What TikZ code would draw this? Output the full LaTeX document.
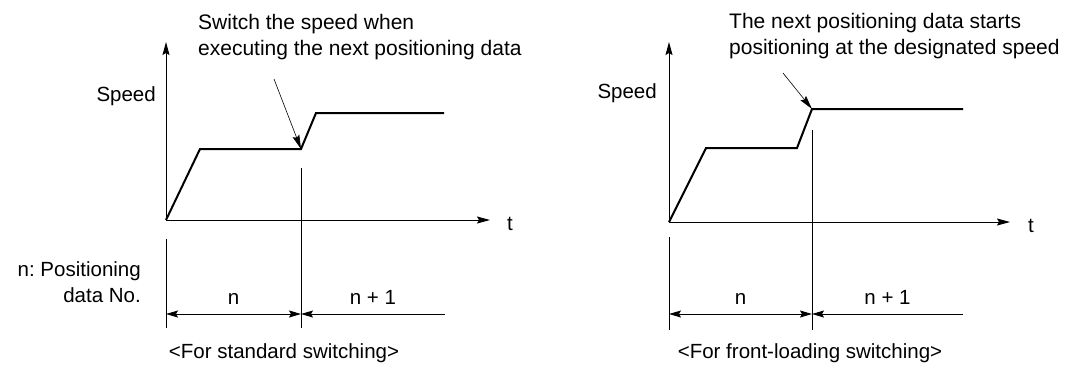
\documentclass[tikz,border=0pt]{standalone}
\usepackage{fontspec}
\setmainfont{Liberation Sans}
\usetikzlibrary{arrows.meta, calc}
\frenchspacing

\begin{document}
\begin{tikzpicture}[x=1pt, y=-1pt,
    txt/.style={inner sep=0pt, font=\fontsize{20.5}{26}\selectfont},
    note/.style={inner sep=0pt, align=left, font=\fontsize{21}{26}\selectfont},
    taxis/.style={line width=1pt, -{Stealth[length=13pt, width=7pt, inset=2pt]}},
    profile/.style={line width=2pt},
    guide/.style={line width=1pt},
    dimboth/.style={line width=1pt, {Stealth[length=12pt, width=7pt, inset=2pt]}-{Stealth[length=12pt, width=7pt, inset=2pt]}},
    dimleft/.style={line width=1pt, {Stealth[length=12pt, width=7pt, inset=2pt]}-},
    callout/.style={line width=0.6pt, -{Stealth[length=14pt, width=7pt, inset=2pt]}}]
    \useasboundingbox (0,0) rectangle (1066,365);

    % standard switching
    \coordinate (s0) at (166,220);
    \coordinate (sy) at (166,42);
    \coordinate (sx) at (490,220);
    \coordinate (sa) at (200,149);
    \coordinate (sb) at (301,149);
    \coordinate (sc) at (316,113);
    \coordinate (sd) at (444,113);
    \coordinate (swtop) at (301,168);
    \coordinate (swbot) at (301,328);
    \coordinate (sltop) at (166,239);
    \coordinate (slbot) at (166,328);
    \coordinate (sdl) at (166,314);
    \coordinate (sdm) at (301,314);
    \coordinate (sdr) at (445,314);
    \coordinate (stail) at (274,79);

    \draw[taxis] (s0) -- (sy);
    \draw[taxis] (s0) -- (sx);
    \draw[profile] (s0) -- (sa) -- (sb) -- (sc) -- (sd);
    \draw[guide] (swtop) -- (swbot);
    \draw[guide] (sltop) -- (slbot);
    \draw[dimboth] (sdl) -- (sdm);
    \draw[dimleft] (sdm) -- (sdr);
    \draw[callout] (stail) -- (sb);

    \node[note, anchor=base west] (snote) at (198,55) {Switch the speed when\\executing the next positioning data};
    \node[txt, anchor=base east] (sspeed) at (156,101) {Speed};
    \node[txt, anchor=base] (st) at (510,230) {t};
    \node[txt, anchor=base east, align=right] (legend) at (141,302) {n: Positioning\\data No.};
    \node[txt, anchor=base] (sn) at ($(sdl)!0.5!(sdm)+(0,-10)$) {n};
    \node[txt, anchor=base] (sn1) at ($(sdm)!0.5!(sdr)+(0,-10)$) {n + 1};
    \node[txt, anchor=base] (scap) at (284,358) {<For standard switching>};

    % front-loading switching
    \coordinate (f0) at (669,222);
    \coordinate (fy) at (669,42);
    \coordinate (fx) at (1010,222);
    \coordinate (fa) at (706,148);
    \coordinate (fb) at (797,148);
    \coordinate (fc) at (812,109);
    \coordinate (fd) at (963,109);
    \coordinate (fwtop) at (812,130);
    \coordinate (fwbot) at (812,330);
    \coordinate (fltop) at (669,237);
    \coordinate (flbot) at (669,330);
    \coordinate (fdl) at (669,314);
    \coordinate (fdm) at (812,314);
    \coordinate (fdr) at (963,314);
    \coordinate (ftail) at (783,73);

    \draw[taxis] (f0) -- (fy);
    \draw[taxis] (f0) -- (fx);
    \draw[profile] (f0) -- (fa) -- (fb) -- (fc) -- (fd);
    \draw[guide] (fwtop) -- (fwbot);
    \draw[guide] (fltop) -- (flbot);
    \draw[dimboth] (fdl) -- (fdm);
    \draw[dimleft] (fdm) -- (fdr);
    \draw[callout] (ftail) -- (fc);

    \node[note, anchor=base west] (fnote) at (729,54) {The next positioning data starts\\positioning at the designated speed};
    \node[txt, anchor=base east] (fspeed) at (657,98) {Speed};
    \node[txt, anchor=base] (ft) at (1031,232) {t};
    \node[txt, anchor=base] (fn) at ($(fdl)!0.5!(fdm)+(0,-10)$) {n};
    \node[txt, anchor=base] (fn1) at ($(fdm)!0.5!(fdr)+(0,-10)$) {n + 1};
    \node[txt, anchor=base] (fcap) at (810,358) {<For front-loading switching>};
\end{tikzpicture}
\end{document}
